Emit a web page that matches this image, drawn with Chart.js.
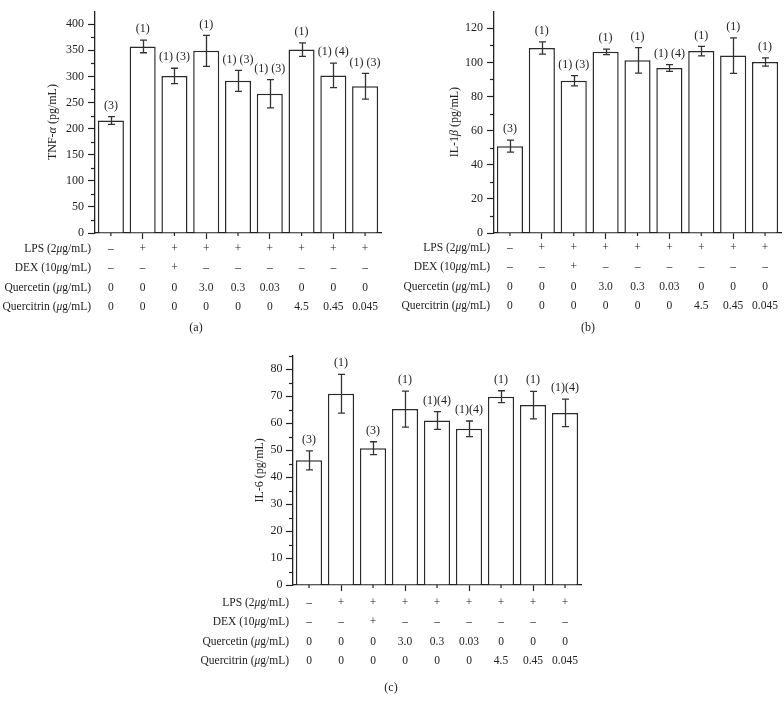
<!DOCTYPE html>
<html>
<head>
<meta charset="utf-8">
<script src="https://cdn.jsdelivr.net/npm/chart.js@4.4.1/dist/chart.umd.min.js"></script>
<style>
body{margin:0;background:#fff;}
#wrap{position:relative;width:784px;height:706px;overflow:hidden;background:#fff;}
canvas{position:absolute;}
#chartA{left:0;top:0;}
#chartB{left:392px;top:0;}
#chartC{left:195px;top:345px;}
</style>
</head>
<body>
<div id="wrap">
<canvas id="chartA" width="392" height="340"></canvas>
<canvas id="chartB" width="392" height="340"></canvas>
<canvas id="chartC" width="392" height="361"></canvas>
</div>
<script>
// ------------------------------
// Data
// ------------------------------

const groups = ["1", "2", "3", "4", "5", "6", "7", "8", "9"];

// treatment table under each chart
const lpsRow = ["\u2013", "+", "+", "+", "+", "+", "+", "+", "+"];
const dexRow = ["\u2013", "\u2013", "+", "\u2013", "\u2013", "\u2013", "\u2013", "\u2013", "\u2013"];
const quercetinRow = ["0", "0", "0", "3.0", "0.3", "0.03", "0", "0", "0"];
const quercitrinRow = ["0", "0", "0", "0", "0", "0", "4.5", "0.45", "0.045"];

// row names: [plain, italic, plain]
const rowNames = [
    ["LPS (2", "\u03bc", "g/mL)"],
    ["DEX (10", "\u03bc", "g/mL)"],
    ["Quercetin (", "\u03bc", "g/mL)"],
    ["Quercitrin (", "\u03bc", "g/mL)"]
];

// (a) TNF-alpha
const tnfMean = [215.5, 357.4, 301, 349, 291.5, 266.8, 351.4, 302, 281.2];
const tnfErr = [7.5, 12, 14.7, 29.6, 20, 27, 13, 23.5, 24.5];
const tnfMarks = ["(3)", "(1)", "(1) (3)", "(1)", "(1) (3)", "(1) (3)", "(1)", "(1) (4)", "(1) (3)"];

// (b) IL-1beta
const il1bMean = [50.9, 108.4, 89.2, 106.2, 101.2, 96.7, 106.6, 104, 100.2];
const il1bErr = [3.5, 3.6, 3, 1.6, 7.5, 2, 2.8, 10.4, 2.4];
const il1bMarks = ["(3)", "(1)", "(1) (3)", "(1)", "(1)", "(1) (4)", "(1)", "(1)", "(1)"];

// (c) IL-6
const il6Mean = [46.2, 70.9, 50.7, 65.2, 61, 57.9, 69.8, 66.7, 63.8];
const il6Err = [3.5, 7.2, 2.4, 6.7, 3.3, 2.9, 2.2, 5.1, 5.1];
const il6Marks = ["(3)", "(1)", "(3)", "(1)", "(1)(4)", "(1)(4)", "(1)", "(1)", "(1)(4)"];

// ------------------------------
// Defaults
// ------------------------------

const FONT = '"Liberation Serif", "DejaVu Serif", serif';
const INK = "#222";

Chart.defaults.font.family = FONT;
Chart.defaults.font.size = 12;
Chart.defaults.color = INK;

// draw plain / italic segments in a row
function richWidth(ctx, parts, size) {
    let w = 0;
    parts.forEach((p, k) => {
        ctx.font = (k % 2 ? "italic " : "") + size + "px " + FONT;
        w += ctx.measureText(p).width;
    });
    return w;
}

function drawRich(ctx, parts, x, y, size) {
    parts.forEach((p, k) => {
        ctx.font = (k % 2 ? "italic " : "") + size + "px " + FONT;
        ctx.fillText(p, x, y);
        x += ctx.measureText(p).width;
    });
}

// ------------------------------
// Error bars, marks, table, titles
// ------------------------------

const extrasPlugin = {
    id: "extras",
    afterDraw(chart, args, opts) {
        const ctx = chart.ctx;
        const xs = chart.scales.x;
        const ys = chart.scales.y;
        const area = chart.chartArea;
        const meta = chart.getDatasetMeta(0);
        const values = chart.data.datasets[0].data;

        ctx.save();

        // minor y ticks
        ctx.strokeStyle = INK;
        ctx.lineWidth = 1.2;
        ys.ticks.forEach(t => {
            if (t.value % opts.major !== 0) {
                const py = Math.round(ys.getPixelForValue(t.value)) + 0.5;
                ctx.beginPath();
                ctx.moveTo(area.left - 4, py);
                ctx.lineTo(area.left, py);
                ctx.stroke();
            }
        });

        // minor x ticks
        meta.data.forEach((bar, i) => {
            if (i % 2 === 0) {
                ctx.beginPath();
                ctx.moveTo(bar.x, area.bottom);
                ctx.lineTo(bar.x, area.bottom + 3);
                ctx.stroke();
            }
        });

        // error bars + significance marks
        ctx.strokeStyle = "#333";
        ctx.lineWidth = 1.3;
        ctx.fillStyle = INK;
        ctx.textAlign = "center";
        ctx.textBaseline = "middle";
        ctx.font = "12px " + FONT;
        meta.data.forEach((bar, i) => {
            const v = values[i];
            const e = opts.errors[i];
            const top = ys.getPixelForValue(v + e);
            const bot = ys.getPixelForValue(v - e);
            const cx = Math.round(bar.x) + 0.5;
            ctx.beginPath();
            ctx.moveTo(cx, top);
            ctx.lineTo(cx, bot);
            ctx.moveTo(cx - 3.5, top);
            ctx.lineTo(cx + 3.5, top);
            ctx.moveTo(cx - 3.5, bot);
            ctx.lineTo(cx + 3.5, bot);
            ctx.stroke();
            ctx.fillText(opts.marks[i], bar.x, top - 11);
        });

        // table rows
        const rows = [lpsRow, dexRow, quercetinRow, quercitrinRow];
        rows.forEach((row, r) => {
            const ry = area.bottom + opts.rowStart + r * 19.3;
            ctx.textAlign = "center";
            ctx.font = "11.5px " + FONT;
            row.forEach((txt, i) => {
                ctx.fillText(txt, xs.getPixelForValue(i), ry);
            });
            ctx.textAlign = "left";
            const w = richWidth(ctx, rowNames[r], 11.5);
            drawRich(ctx, rowNames[r], area.left - 4 - w, ry, 11.5);
        });

        // panel letter
        ctx.textAlign = "center";
        ctx.font = "12px " + FONT;
        ctx.fillText(opts.letter, chart.width / 2, area.bottom + opts.letterGap);

        // y title
        ctx.translate(opts.titleX, (area.top + area.bottom) / 2);
        ctx.rotate(-Math.PI / 2);
        ctx.textAlign = "left";
        const tw = richWidth(ctx, opts.title, 12);
        drawRich(ctx, opts.title, -tw / 2, 0, 12);

        ctx.restore();
    }
};

// ------------------------------
// Chart builder
// ------------------------------

function makeChart(id, cfg) {

    return new Chart(document.getElementById(id), {

        type: "bar",

        data: {
            labels: groups,
            datasets: [{
                data: cfg.mean,
                backgroundColor: "#fff",
                borderColor: "#2a2a2a",
                borderWidth: 1.5,
                barPercentage: 0.82,
                categoryPercentage: 1
            }]
        },

        options: {
            responsive: false,
            animation: false,
            layout: { padding: cfg.pad },
            plugins: {
                legend: { display: false },
                tooltip: { enabled: false },
                extras: {
                    errors: cfg.err,
                    marks: cfg.marks,
                    major: cfg.major,
                    rowStart: cfg.rowStart,
                    letter: cfg.letter,
                    letterGap: cfg.letterGap,
                    title: cfg.title,
                    titleX: cfg.titleX
                }
            },
            scales: {
                x: {
                    grid: {
                        offset: false,
                        drawOnChartArea: false,
                        tickLength: 6,
                        tickWidth: 1.2,
                        tickColor: c => (c.index % 2 ? INK : "transparent")
                    },
                    border: { color: INK, width: 1.3 },
                    ticks: { display: false },
                    afterFit: s => { s.height = cfg.xHeight; }
                },
                y: {
                    min: 0,
                    max: cfg.max,
                    ticks: {
                        stepSize: cfg.step,
                        autoSkip: false,
                        padding: cfg.tickPad,
                        font: { size: 12 },
                        callback: v => {
                            if (v === cfg.max) return cfg.topLabel;
                            return v % cfg.major === 0 ? String(v) : "";
                        }
                    },
                    grid: {
                        drawOnChartArea: false,
                        tickLength: 7,
                        tickWidth: 1.2,
                        tickColor: c => (c.tick && c.tick.value % cfg.major === 0 ? INK : "transparent")
                    },
                    border: { color: INK, width: 1.3 },
                    afterFit: s => { s.width = cfg.yWidth; }
                }
            }
        },

        plugins: [extrasPlugin]
    });
}

// (a)
makeChart("chartA", {
    mean: tnfMean, err: tnfErr, marks: tnfMarks,
    max: 425, step: 25, major: 50, topLabel: null,
    pad: { top: 0, right: 11, bottom: 0, left: 0 },
    yWidth: 95, xHeight: 107, tickPad: 4,
    rowStart: 16, letter: "(a)", letterGap: 95,
    title: ["TNF-", "\u03b1", " (pg/mL)"], titleX: 53
});

// (b)
makeChart("chartB", {
    mean: il1bMean, err: il1bErr, marks: il1bMarks,
    max: 130, step: 10, major: 20, topLabel: null,
    pad: { top: 0, right: 3, bottom: 0, left: 0 },
    yWidth: 102, xHeight: 107, tickPad: 4,
    rowStart: 15, letter: "(b)", letterGap: 95,
    title: ["IL-1", "\u03b2", " (pg/mL)"], titleX: 63
});

// (c)
makeChart("chartC", {
    mean: il6Mean, err: il6Err, marks: il6Marks,
    max: 85, step: 5, major: 10, topLabel: "",
    pad: { top: 7.7, right: 6, bottom: 0, left: 0 },
    yWidth: 98, xHeight: 121, tickPad: 3.5,
    rowStart: 18, letter: "(c)", letterGap: 103,
    title: ["IL-6 (pg/mL)"], titleX: 65
});
</script>
</body>
</html>
